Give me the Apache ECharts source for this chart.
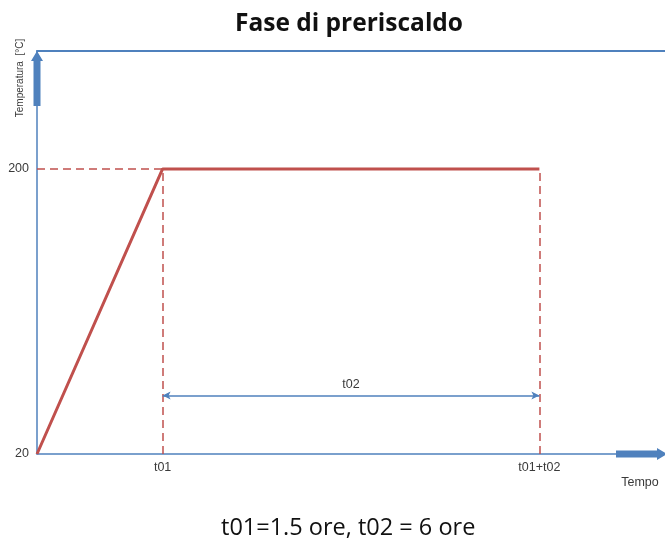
<!DOCTYPE html>
<html><head><meta charset="utf-8">
<script src="https://cdn.jsdelivr.net/npm/echarts@6/dist/echarts.min.js"></script>
<style>html,body{margin:0;padding:0;background:#fff}#c{width:665px;height:540px}</style>
</head><body><div id="c"></div>
<script>
// ---- data ----
const titleText = 'Fase di preriscaldo';
const captionText = 't01=1.5 ore, t02 = 6 ore';
const yAxisTitle = 'Temperatura  [°C]';
const xAxisTitle = 'Tempo';
// schematic time positions (drawing is not to scale)
const timePoints = [0, 1.5, 6];
const tempValues = [20, 200, 200];
const xTickValues = [1.5, 6];
const xTickLabels = ['t01', 't01+t02'];
const yTickValues = [20, 200];
const spanLabel = 't02';
const spanLevel = 57;
const xMax = 7.5, yMin = 20, yMax = 274.5;

// ---- chart ----
const BLUE = '#4F81BD', RED = '#C0504D', TXT = '#3a3a3a';
const chart = echarts.init(document.getElementById('c'), null, {renderer: 'canvas'});
const tStart = timePoints[1], tEnd = timePoints[2], plateau = tempValues[1];
const labelFont = {fontSize: 12.5, fontFamily: 'Liberation Sans', color: TXT};
chart.setOption({
  animation: false,
  title: [
    {text: titleText, left: 230, top: 7,
     textStyle: {fontFamily: 'Open Sans', fontWeight: 'bold', fontSize: 24.5, color: '#111'}},
    {text: captionText, left: 216, top: 511,
     textStyle: {fontFamily: 'Open Sans', fontWeight: 'normal', fontSize: 23.5, color: '#111'}}
  ],
  grid: {left: 37, right: 0, top: 51, bottom: 86},
  xAxis: [{
    type: 'value', min: 0, max: xMax,
    axisLine: {show: true, lineStyle: {color: BLUE, width: 1.5}},
    axisTick: {show: false}, splitLine: {show: false},
    axisLabel: Object.assign({customValues: xTickValues, margin: 7,
      formatter: v => xTickLabels[xTickValues.indexOf(v)] || ''}, labelFont)
  }, {
    type: 'value', min: 0, max: xMax, position: 'top',
    axisLine: {show: true, lineStyle: {color: BLUE, width: 2}},
    axisTick: {show: false}, splitLine: {show: false}, axisLabel: {show: false}
  }],
  yAxis: {
    type: 'value', min: yMin, max: yMax,
    axisLine: {show: true, lineStyle: {color: BLUE, width: 1.5}},
    axisTick: {show: false}, splitLine: {show: false},
    axisLabel: Object.assign({customValues: yTickValues, margin: 8}, labelFont)
  },
  series: [
    {
      type: 'line', data: timePoints.map((t, i) => [t, tempValues[i]]),
      symbol: 'none', lineStyle: {color: RED, width: 3}, z: 5,
      markLine: {
        silent: true, symbol: ['none', 'none'],
        lineStyle: {color: RED, type: [8, 5], width: 1.5}, label: {show: false},
        data: [
          [{coord: [timePoints[0], plateau]}, {coord: [tStart, plateau]}],
          [{coord: [tStart, yMin]}, {coord: [tStart, plateau]}],
          [{coord: [tEnd, yMin]}, {coord: [tEnd, plateau]}]
        ]
      }
    },
    {
      type: 'line', data: [], symbol: 'none',
      markLine: {
        silent: true, symbol: ['arrow', 'arrow'], symbolSize: [6, 8],
        lineStyle: {color: BLUE, type: 'solid', width: 1.5},
        label: Object.assign({show: true, position: 'middle', formatter: spanLabel, distance: 4}, labelFont),
        data: [[{coord: [tStart, spanLevel]}, {coord: [tEnd, spanLevel]}]]
      }
    }
  ]
});

// decorative axis arrows and axis titles, anchored to the axis ends
const pTop = chart.convertToPixel({gridIndex: 0}, [0, yMax]);
const pBot = chart.convertToPixel({gridIndex: 0}, [xMax, yMin]);
const ax = pTop[0], ay = pTop[1];
const bx = pBot[0], by = pBot[1];
chart.setOption({
  graphic: [
    {type: 'polygon', z: 10, shape: {points: [
      [ax - 3.5, ay + 55], [ax - 3.5, ay + 10], [ax - 6, ay + 10], [ax, ay], [ax + 6, ay + 10],
      [ax + 3.5, ay + 10], [ax + 3.5, ay + 55]]}, style: {fill: BLUE}},
    {type: 'polygon', z: 10, shape: {points: [
      [bx - 49, by - 3.5], [bx - 8, by - 3.5], [bx - 8, by - 6], [bx + 2, by], [bx - 8, by + 6],
      [bx - 8, by + 3.5], [bx - 49, by + 3.5]]}, style: {fill: BLUE}},
    {type: 'text', z: 10, x: 20, y: 78, rotation: Math.PI / 2,
     style: {text: yAxisTitle, fontSize: 10, fontFamily: 'Liberation Sans', fill: TXT,
             align: 'center', verticalAlign: 'middle'}},
    {type: 'text', z: 10, x: bx - 25, y: by + 29,
     style: {text: xAxisTitle, fontSize: 12.5, fontFamily: 'Liberation Sans', fill: TXT,
             align: 'center', verticalAlign: 'middle'}}
  ]
});
</script></body></html>
